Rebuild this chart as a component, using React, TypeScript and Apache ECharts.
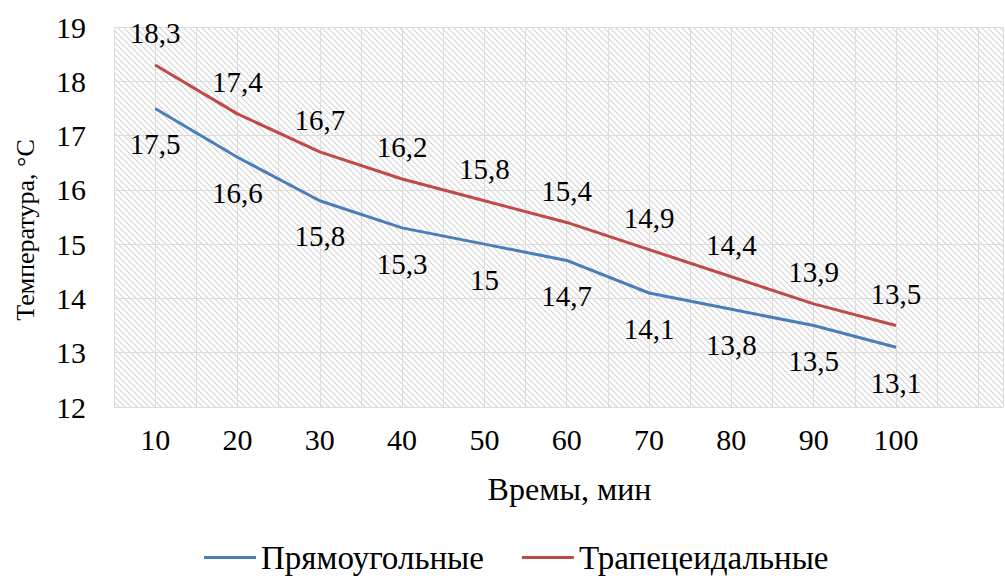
import React, { useEffect, useRef } from "react";
import * as echarts from "echarts";

const times = [10, 20, 30, 40, 50, 60, 70, 80, 90, 100];
const rectangular = [17.5, 16.6, 15.8, 15.3, 15, 14.7, 14.1, 13.8, 13.5, 13.1];
const trapezoidal = [18.3, 17.4, 16.7, 16.2, 15.8, 15.4, 14.9, 14.4, 13.9, 13.5];
const seriesNames = ["Прямоугольные", "Трапецеидальные"];
const xTitle = "Времы, мин";
const yTitle = "Температура, °C";

const FONT = "Liberation Serif, Times New Roman, serif";

const hatchSvg =
  "<svg xmlns='http://www.w3.org/2000/svg' width='6' height='6'>" +
  "<path d='M0,0 L6,6 M5,-1 L7,1 M-1,5 L1,7' stroke='#d4d4d4' stroke-width='1.1'/></svg>";
const hatchUrl = "data:image/svg+xml;charset=utf-8," + encodeURIComponent(hatchSvg);

const fmt = (v: number) => String(v).replace(".", ",");

export default function App() {
  const ref = useRef<HTMLDivElement>(null);
  useEffect(() => {
    if (!ref.current) return;
    const chart = echarts.init(ref.current, undefined, { renderer: "svg" });
    const mk = (vals: number[]) => vals.map((v, i) => [times[i], v]);
    chart.setOption({
      animation: false,
      textStyle: { fontFamily: FONT },
      grid: {
        left: 114,
        right: 2,
        top: 27,
        bottom: 171,
        show: true,
        borderWidth: 0,
        backgroundColor: { image: hatchUrl, repeat: "repeat" },
      },
      graphic: [
        {
          type: "text",
          x: 25,
          y: 230,
          rotation: Math.PI / 2,
          style: {
            text: yTitle,
            fontFamily: FONT,
            fontSize: 26,
            fill: "#000",
            textAlign: "center",
            textVerticalAlign: "middle",
          },
        },
      ],
      legend: {
        left: 204,
        top: 541,
        padding: 0,
        icon: "rect",
        itemWidth: 52,
        itemHeight: 3,
        itemGap: 38,
        textStyle: { fontFamily: FONT, fontSize: 33, color: "#000", lineHeight: 33 },
        data: seriesNames,
      },
      xAxis: {
        type: "value",
        min: 5,
        max: 113,
        interval: 5,
        name: xTitle,
        nameLocation: "middle",
        nameGap: 66,
        nameTextStyle: { fontFamily: FONT, fontSize: 32, color: "#000", padding: [0, 0, 0, 22] },
        axisLine: { show: false },
        axisTick: { show: false },
        splitLine: { show: true, lineStyle: { color: "#dcdcdc", width: 1 } },
        axisLabel: {
          fontFamily: FONT,
          fontSize: 30,
          color: "#000",
          margin: 17,
          showMaxLabel: false,
          formatter: (v: number) => (v % 10 === 0 && v >= 10 && v <= 100 ? String(v) : ""),
        },
      },
      yAxis: {
        type: "value",
        min: 12,
        max: 19,
        interval: 1,
        axisLine: { show: false },
        axisTick: { show: false },
        splitLine: { show: true, lineStyle: { color: "#dcdcdc", width: 1 } },
        axisLabel: { fontFamily: FONT, fontSize: 30, color: "#000", margin: 28 },
      },
      series: [
        {
          name: seriesNames[0],
          type: "line",
          data: mk(rectangular),
          symbol: "circle",
          symbolSize: 0.5,
          itemStyle: { color: "#4a7ebb" },
          lineStyle: { color: "#4a7ebb", width: 3 },
          label: {
            show: true,
            position: "bottom",
            distance: 21,
            fontFamily: FONT,
            fontSize: 29,
            color: "#000",
            formatter: (p: any) => fmt(p.value[1]),
          },
        },
        {
          name: seriesNames[1],
          type: "line",
          data: mk(trapezoidal),
          symbol: "circle",
          symbolSize: 0.5,
          itemStyle: { color: "#be4b48" },
          lineStyle: { color: "#be4b48", width: 3 },
          label: {
            show: true,
            position: "top",
            distance: 17,
            fontFamily: FONT,
            fontSize: 29,
            color: "#000",
            formatter: (p: any) => fmt(p.value[1]),
          },
        },
      ],
    });
    return () => chart.dispose();
  }, []);
  return (
    <div
      ref={ref}
      style={{ position: "fixed", left: 0, top: 0, width: 1005, height: 578, background: "#fff" }}
    />
  );
}
